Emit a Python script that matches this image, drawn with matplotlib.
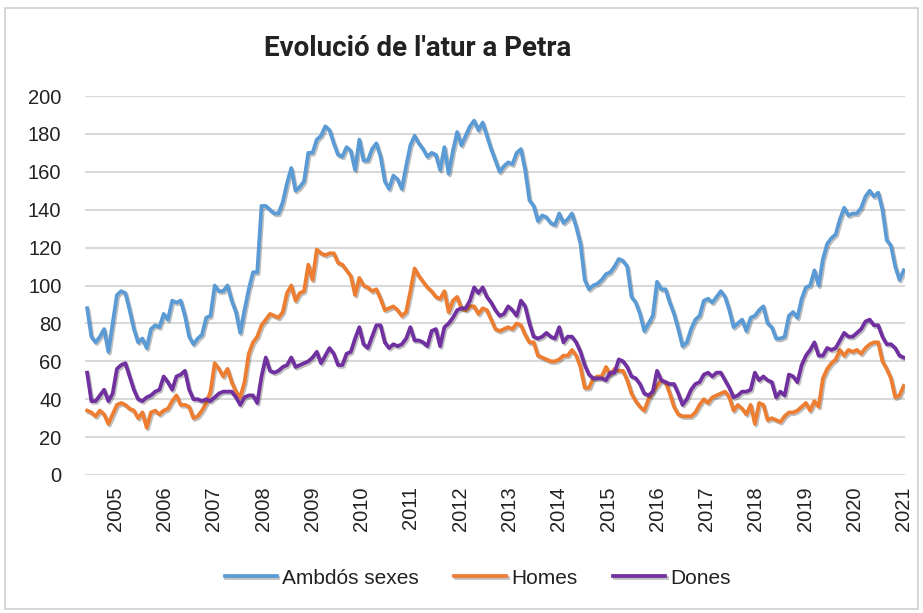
import numpy as np
import matplotlib
matplotlib.use("Agg")
import matplotlib.pyplot as plt
import matplotlib.patheffects as pe
from matplotlib.patches import Rectangle

# monthly values, left edge .. Jan 2021
ambdos = [88, 73, 70, 73, 77, 65, 80, 95, 97, 96, 87, 77, 70, 72, 67, 77, 79, 78, 85, 82, 92, 91, 92, 84, 73, 69, 72, 74, 83, 84, 100, 97,
          97, 100, 92, 86, 75, 87, 98, 107, 107, 142, 142, 140, 138, 138, 144, 154, 162, 150, 152, 155, 170, 170, 177, 179, 184, 182, 175, 169, 168, 173, 171, 161,
          177, 166, 166, 172, 175, 168, 155, 151, 158, 156, 151, 163, 174, 179, 175, 172, 168, 170, 169, 161, 173, 159, 171, 181, 174, 179, 184, 187, 182, 186, 179, 172,
          166, 160, 163, 165, 164, 170, 172, 161, 145, 142, 134, 137, 136, 133, 132, 138, 133, 135, 138, 131, 122, 103, 98, 100, 101, 103, 106, 107, 110, 114, 113, 110,
          94, 91, 85, 76, 80, 84, 102, 98, 98, 91, 85, 77, 68, 70, 77, 82, 84, 92, 93, 91, 94, 97, 94, 87, 78, 80, 82, 76, 83, 84, 87, 89,
          80, 78, 72, 72, 73, 84, 86, 83, 93, 99, 100, 108, 100, 114, 122, 125, 127, 135, 141, 137, 138, 138, 141, 147, 150, 147, 149, 140, 124, 121, 110, 103, 108]

homes = [34, 33, 31, 34, 32, 27, 32, 37, 38, 37, 35, 34, 30, 33, 25, 33, 34, 32, 34, 35, 39, 42, 37, 37, 36, 30, 31, 34, 38, 44, 59, 56,
         52, 56, 49, 44, 41, 49, 64, 70, 73, 79, 82, 85, 84, 83, 86, 96, 100, 92, 96, 97, 111, 103, 119, 117, 116, 117, 117, 112, 111, 108, 105, 95,
         104, 100, 99, 97, 98, 93, 87, 88, 89, 87, 84, 86, 97, 109, 105, 102, 99, 97, 94, 93, 97, 86, 92, 94, 88, 87, 89, 89, 85, 88, 87, 82,
         77, 76, 77, 78, 77, 80, 79, 74, 70, 70, 63, 62, 61, 60, 60, 61, 63, 63, 66, 63, 57, 46, 46, 51, 52, 52, 57, 53, 56, 55, 55, 50,
         43, 39, 36, 34, 40, 44, 47, 50, 49, 43, 36, 32, 31, 31, 31, 33, 37, 40, 38, 41, 42, 43, 44, 41, 34, 37, 35, 32, 37, 27, 38, 37,
         29, 30, 29, 28, 31, 33, 33, 34, 36, 38, 34, 39, 36, 51, 56, 59, 61, 66, 63, 66, 65, 66, 64, 67, 69, 70, 70, 60, 56, 51, 41, 42, 47]

dones = [54, 39, 39, 42, 45, 39, 43, 56, 58, 59, 52, 45, 40, 39, 41, 42, 44, 45, 52, 49, 45, 52, 53, 55, 45, 40, 40, 39, 40, 39, 41, 43,
         44, 44, 44, 41, 37, 41, 42, 42, 38, 52, 62, 55, 54, 55, 57, 58, 62, 57, 58, 59, 60, 62, 65, 59, 63, 67, 64, 58, 58, 64, 65, 72,
         78, 69, 67, 73, 79, 79, 70, 67, 69, 68, 69, 72, 78, 71, 71, 70, 68, 76, 77, 68, 78, 80, 83, 87, 88, 88, 92, 99, 96, 99, 94, 91,
         87, 84, 85, 89, 87, 84, 92, 89, 80, 73, 72, 73, 75, 73, 72, 78, 70, 73, 73, 70, 65, 58, 53, 51, 51, 51, 50, 54, 54, 61, 60, 57,
         52, 51, 48, 43, 42, 44, 55, 50, 49, 48, 48, 43, 37, 40, 45, 48, 49, 53, 54, 52, 54, 54, 50, 46, 41, 42, 44, 44, 45, 54, 50, 52,
         50, 49, 41, 44, 42, 53, 52, 49, 58, 63, 66, 70, 63, 63, 67, 66, 67, 71, 75, 73, 73, 75, 77, 81, 82, 79, 79, 73, 69, 69, 67, 63, 62]

years = [str(y) for y in range(2005, 2022)]
series_names = ["Ambdós sexes", "Homes", "Dones"]
colors = ["#5B9BD5", "#ED7D31", "#7030A0"]

plt.rcParams['font.family'] = ['Liberation Sans', 'DejaVu Sans']

fig = plt.figure(figsize=(9.23, 6.13), dpi=100)
fig.patches.append(Rectangle((5 / 923, 4 / 613), 913 / 923, 601 / 613, transform=fig.transFigure,
                             fill=False, edgecolor="#D0D0D0", linewidth=1.2))

ax = fig.add_axes([85 / 923, 1 - 475 / 613, 820 / 923, 379 / 613])

shadow = [pe.SimpleLineShadow(offset=(1.0, -1.3), shadow_color="black", alpha=0.25), pe.Normal()]
for vals, name, c in zip([ambdos, homes, dones], series_names, colors):
    x = np.arange(len(vals))
    ax.plot(x, vals, color=c, linewidth=2.7, label=name, path_effects=shadow, solid_joinstyle="round")

n = len(ambdos)
ax.set_ylim(0, 200)
ax.set_yticks(range(0, 201, 20))
ax.set_xlim(-0.5, n - 0.7)
# year labels: first one sits about 6.6 months in, last one on the final point
ax.set_xticks(np.linspace(6.6, n - 1, len(years)))
ax.set_xticklabels(years, rotation=90)
ax.grid(axis="y", color="#D9D9D9", linewidth=1.5)
ax.set_axisbelow(True)
for s in ax.spines.values():
    s.set_visible(False)
ax.tick_params(axis="both", length=0, labelsize=14.5, colors="#222222")
ax.tick_params(axis="y", pad=17)
ax.tick_params(axis="x", pad=8)

fig.text(418 / 923, 1 - 48 / 613, "Evolució de l'atur a Petra", ha="center", va="center",
         fontsize=20, fontweight="bold", family=["Roboto", "DejaVu Sans"], color="#222222")

leg = fig.legend(loc="center", bbox_to_anchor=(478 / 923, 1 - 578 / 613), ncol=3, frameon=False,
                 fontsize=15, handlelength=2.5, columnspacing=1.7, handletextpad=0.25)
for t in leg.get_texts():
    t.set_color("#222222")

fig.savefig("out.png", dpi=100)
